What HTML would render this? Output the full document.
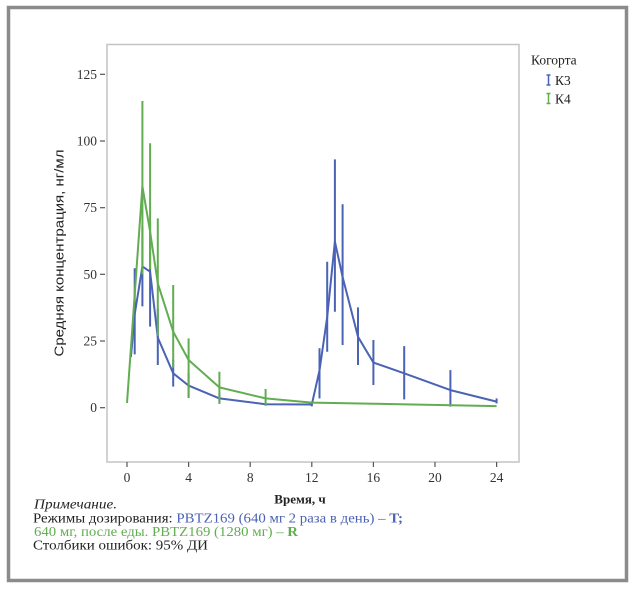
<!DOCTYPE html>
<html>
<head>
<meta charset="utf-8">
<style>
  html, body { margin:0; padding:0; background:#ffffff; }
  body { width:636px; height:596px; overflow:hidden; }
  svg { display:block; }
  text { font-family: "Liberation Serif", "Noto Serif CJK SC", serif; }
</style>
</head>
<body>
<svg width="636" height="596" viewBox="0 0 636 596" xmlns="http://www.w3.org/2000/svg">
  <rect x="0" y="0" width="636" height="596" fill="#ffffff"/>
  <!-- outer border -->
  <rect x="8.5" y="7.5" width="618" height="573" fill="#ffffff" stroke="#8b8b8b" stroke-width="3.5"/>

  <!-- plot frame -->
  <rect x="107" y="44.5" width="412" height="417.5" fill="#ffffff" stroke="#c4c4c4" stroke-width="1.5"/>

  <!-- y ticks -->
  <g stroke="#555" stroke-width="1.2">
    <line x1="100" y1="74.3" x2="105" y2="74.3"/>
    <line x1="100" y1="141" x2="105" y2="141"/>
    <line x1="100" y1="207.7" x2="105" y2="207.7"/>
    <line x1="100" y1="274.3" x2="105" y2="274.3"/>
    <line x1="100" y1="341" x2="105" y2="341"/>
    <line x1="100" y1="407.7" x2="105" y2="407.7"/>
  </g>
  <g font-size="13.5" fill="#333" text-anchor="end">
    <text x="97" y="79">125</text>
    <text x="97" y="145.5">100</text>
    <text x="97" y="212.2">75</text>
    <text x="97" y="278.8">50</text>
    <text x="97" y="345.5">25</text>
    <text x="97" y="412.2">0</text>
  </g>

  <!-- x ticks -->
  <g stroke="#555" stroke-width="1.2">
    <line x1="127" y1="462" x2="127" y2="467"/>
    <line x1="188.6" y1="462" x2="188.6" y2="467"/>
    <line x1="250.2" y1="462" x2="250.2" y2="467"/>
    <line x1="311.8" y1="462" x2="311.8" y2="467"/>
    <line x1="373.4" y1="462" x2="373.4" y2="467"/>
    <line x1="435" y1="462" x2="435" y2="467"/>
    <line x1="496.6" y1="462" x2="496.6" y2="467"/>
  </g>
  <g font-size="13.5" fill="#333" text-anchor="middle">
    <text x="127" y="482">0</text>
    <text x="188.6" y="482">4</text>
    <text x="250.2" y="482">8</text>
    <text x="311.8" y="482">12</text>
    <text x="373.4" y="482">16</text>
    <text x="435" y="482">20</text>
    <text x="496.6" y="482">24</text>
  </g>

  <!-- axis titles -->
  <text x="300" y="503.5" font-size="13" font-weight="bold" fill="#222" text-anchor="middle">Время, ч</text>
  <text transform="translate(63.5,253) rotate(-90)" x="0" y="0" font-size="12.5" fill="#222" text-anchor="middle" textLength="207" lengthAdjust="spacingAndGlyphs" style="font-family:'Liberation Sans','Noto Sans CJK SC',sans-serif">Средняя концентрация, нг/мл</text>

  <!-- blue series K3 (drawn first) -->
  <g stroke="#4a63b4" stroke-width="2" fill="none">
    <!-- error bars -->
    <line x1="134.7" y1="268.3" x2="134.7" y2="354.4"/>
    <line x1="142.4" y1="226.4" x2="142.4" y2="306.4"/>
    <line x1="150.1" y1="221" x2="150.1" y2="326.6"/>
    <line x1="157.8" y1="309" x2="157.8" y2="365"/>
    <line x1="173.2" y1="359.7" x2="173.2" y2="386.6"/>
    <line x1="188.6" y1="373" x2="188.6" y2="397.8"/>
    <line x1="219.4" y1="393" x2="219.4" y2="403.7"/>
    <line x1="265.6" y1="402.4" x2="265.6" y2="405.6"/>
    <line x1="311.8" y1="402.4" x2="311.8" y2="406.4"/>
    <line x1="319.5" y1="348.2" x2="319.5" y2="398.4"/>
    <line x1="327.2" y1="261.8" x2="327.2" y2="351.7"/>
    <line x1="334.9" y1="159.4" x2="334.9" y2="311.7"/>
    <line x1="342.6" y1="204.2" x2="342.6" y2="345"/>
    <line x1="358" y1="307.4" x2="358" y2="365"/>
    <line x1="373.4" y1="340" x2="373.4" y2="385"/>
    <line x1="404.2" y1="346.1" x2="404.2" y2="399.4"/>
    <line x1="450.4" y1="370.1" x2="450.4" y2="406.6"/>
    <line x1="496.6" y1="398.4" x2="496.6" y2="403.4"/>
    <!-- mean line -->
    <polyline stroke-linejoin="round" points="130.9,357 134.7,314.4 142.4,266.4 150.1,271.7 157.8,337.6 173.2,373.3 188.6,385.6 219.4,398.4 265.6,404.2 311.8,404.5 319.5,370.4 327.2,317 334.9,241.6 342.6,277 358,336.8 373.4,362.6 404.2,373.3 450.4,390.1 496.6,401.6"/>
  </g>

  <!-- green series K4 -->
  <g stroke="#62ad52" stroke-width="2" fill="none">
    <line x1="142.4" y1="101" x2="142.4" y2="274.4"/>
    <line x1="150.1" y1="143.3" x2="150.1" y2="269"/>
    <line x1="157.8" y1="218.4" x2="157.8" y2="335.7"/>
    <line x1="173.2" y1="285" x2="173.2" y2="367.7"/>
    <line x1="188.6" y1="338.4" x2="188.6" y2="397"/>
    <line x1="219.4" y1="371.7" x2="219.4" y2="403"/>
    <line x1="265.6" y1="389" x2="265.6" y2="405"/>
    <polyline stroke-linejoin="round" points="127,402.9 142.4,186.3 150.1,231.7 157.8,283.4 173.2,331.7 188.6,360 219.4,387.4 265.6,398.4 311.8,402.6 496.6,406.1"/>
  </g>

  <!-- legend -->
  <text x="531" y="64.5" font-size="13.5" fill="#222">Когорта</text>
  <g stroke="#4a63b4" stroke-width="1.5">
    <line x1="548.5" y1="75" x2="548.5" y2="85"/>
    <line x1="546.5" y1="75" x2="550.5" y2="75"/>
    <line x1="546.5" y1="85" x2="550.5" y2="85"/>
  </g>
  <text x="555" y="85" font-size="13.5" fill="#222">К3</text>
  <g stroke="#62ad52" stroke-width="1.5">
    <line x1="548.5" y1="93.5" x2="548.5" y2="103.5"/>
    <line x1="546.5" y1="93.5" x2="550.5" y2="93.5"/>
    <line x1="546.5" y1="103.5" x2="550.5" y2="103.5"/>
  </g>
  <text x="555" y="103.5" font-size="13.5" fill="#222">К4</text>

  <!-- note -->
  <text x="34" y="508.5" font-size="13.5" font-style="italic" fill="#222" textLength="83" lengthAdjust="spacingAndGlyphs">Примечание.</text>
  <text x="33" y="522.5" font-size="13.5" fill="#222" textLength="370" lengthAdjust="spacingAndGlyphs">Режимы дозирования: <tspan fill="#4a63b4">PBTZ169 (640 мг 2 раза в день) – </tspan><tspan fill="#4a63b4" font-weight="bold">T;</tspan></text>
  <text x="34" y="536" font-size="13.5" fill="#62ad52" textLength="264" lengthAdjust="spacingAndGlyphs">640 мг, после еды. PBTZ169 (1280 мг) – <tspan font-weight="bold">R</tspan></text>
  <text x="33" y="549.5" font-size="13.5" fill="#222" textLength="175" lengthAdjust="spacingAndGlyphs">Столбики ошибок: 95% ДИ</text>
</svg>
</body>
</html>
